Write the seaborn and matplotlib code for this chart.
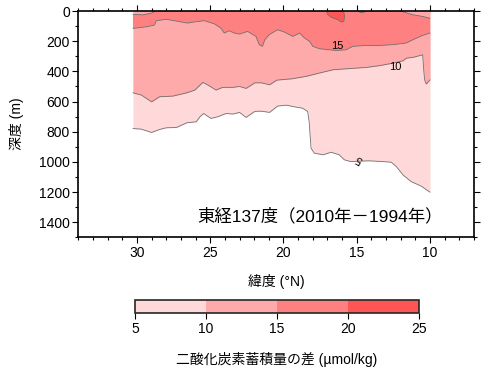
import numpy as np
import matplotlib
matplotlib.use("Agg")
import matplotlib.pyplot as plt
import seaborn as sns
from matplotlib.colors import ListedColormap, BoundaryNorm
from matplotlib.cm import ScalarMappable
from matplotlib.ticker import MultipleLocator

lat5 = [30.27, 29.7, 29.0, 28.45, 28.0, 27.3, 26.6, 25.95, 25.7, 25.45, 24.95, 24.5,
        23.9, 23.45, 23.0, 22.55, 21.95, 21.5, 20.95, 20.4, 19.8, 19.25, 18.7, 18.35,
        18.25, 18.12, 17.9, 17.3, 16.75, 16.2, 15.85, 15.4, 14.8, 14.15, 13.2, 12.65,
        12.3, 11.85, 11.3, 10.6, 10.0]
d5 = [779, 783, 805, 785, 774, 772, 741, 734, 701, 679, 712, 701,
      679, 683, 672, 705, 665, 664, 672, 630, 624, 635, 644, 666,
      732, 909, 942, 953, 936, 953, 986, 998, 995, 993, 998, 1002,
      1031, 1086, 1130, 1161, 1201]

lat10 = [30.27, 29.7, 29.0, 28.45, 27.55, 26.6, 26.05, 25.5, 25.15, 24.6, 24.15, 23.45,
         23.0, 22.55, 21.95, 21.5, 20.95, 20.45, 19.4, 18.45, 17.55, 16.6, 15.7, 15.0,
         14.35, 13.45, 12.5, 11.85, 11.6, 11.15, 10.5, 10.44, 10.37, 10.26, 10.0]
d10 = [542, 557, 602, 568, 564, 542, 524, 473, 491, 524, 506, 506,
       500, 513, 476, 476, 489, 458, 449, 433, 411, 389, 383, 378,
       374, 362, 345, 330, 312, 307, 290, 378, 456, 484, 456]

lat15 = [30.27, 29.3, 28.8, 28.68, 28.0, 27.45, 26.55, 26.1, 25.4, 24.7, 24.27, 24.04,
         23.7, 23.36, 23.0, 22.45, 21.88, 21.65, 21.43, 21.27, 20.97, 20.4, 19.95, 19.36,
         18.9, 18.56, 18.22, 18.0, 17.54, 16.86, 16.4, 15.72, 15.27, 14.35, 13.44, 12.53,
         11.62, 11.16, 10.49, 10.0]
d15 = [115, 104, 93, 64, 55, 64, 80, 73, 64, 86, 113, 146,
       131, 146, 153, 135, 168, 224, 234, 190, 157, 124, 139, 168,
       146, 179, 201, 234, 250, 257, 262, 257, 234, 228, 228, 223,
       212, 190, 161, 146]

# upper edge of the 15-20 band (surface where it reaches 0)
lat15_top = [30.27, 29.6, 29.0, 28.75, 12.0, 11.2, 10.5, 10.0]
d15_top = [22, 25, 14, 0, 0, 24, 36, 48]

# 20+ patches near the surface
lat20a = [17.08, 16.97, 16.74, 16.29, 16.06, 15.88, 15.83, 15.9]
d20a = [0, 24, 42, 58, 73, 68, 35, 0]
lat20b = [14.9, 14.75, 14.5, 14.4]
d20b = [0, 10, 8, 0]

levels = [5, 10, 15, 20, 25]
band_colors = ['#ffd9d9', '#ffaaaa', '#ff8080', '#ff5555']

sns.set_theme(style="ticks")
plt.rcParams['font.family'] = ['Liberation Sans', 'Noto Sans CJK JP']
plt.rcParams['axes.unicode_minus'] = False
for k in ['text.color', 'axes.labelcolor', 'xtick.color', 'ytick.color']:
    plt.rcParams[k] = 'black'

fig = plt.figure(figsize=(4.86, 3.70), dpi=100)
ax = fig.add_axes([0.1611, 0.3586, 0.8142, 0.6116])

ax.fill_between(lat5, 0, d5, color=band_colors[0], lw=0)
ax.fill_between(lat10, 0, d10, color=band_colors[1], lw=0)
ax.fill(np.r_[lat15_top, lat15[::-1]], np.r_[d15_top, d15[::-1]],
        color=band_colors[2], lw=0)
ax.fill(lat20a, d20a, color=band_colors[3], lw=0)
ax.fill(lat20b, d20b, color=band_colors[3], lw=0)

line_kw = dict(color='#707070', lw=0.6, sort=False, estimator=None, ax=ax, legend=False)
for xs, ys in [(lat5, d5), (lat10, d10), (lat15, d15),
               (lat15_top[:4], d15_top[:4]), (lat15_top[4:], d15_top[4:]),
               (lat20a, d20a), (lat20b, d20b)]:
    sns.lineplot(x=xs, y=ys, **line_kw)

# contour labels
ax.text(16.34, 229, '15', fontsize=8, ha='center', va='center')
ax.text(12.4, 373, '10', fontsize=8, ha='center', va='center')
ax.text(14.81, 981, '5', fontsize=8, ha='center', va='center', rotation=150)

ax.text(0.922, 0.094, '東経137度（2010年－1994年）', transform=ax.transAxes,
        ha='right', va='center', fontsize=12.5)

ax.set_xlim(34, 7)
ax.set_ylim(1500, 0)
ax.set_xticks([30, 25, 20, 15, 10])
ax.set_yticks(range(0, 1401, 200))
ax.xaxis.set_minor_locator(MultipleLocator(1))
ax.yaxis.set_minor_locator(MultipleLocator(100))
ax.tick_params(which='both', direction='out', top=True, right=True,
               labeltop=False, labelright=False, color='black', width=0.8)
ax.tick_params(which='major', length=4, pad=2, labelsize=10)
ax.tick_params(which='minor', length=2)
for s in ax.spines.values():
    s.set_visible(True)
    s.set_linewidth(1.2)
    s.set_color('black')
ax.set_xlabel('緯度 (°N)', fontsize=10, labelpad=10)
ax.set_ylabel('深度 (m)', fontsize=10, labelpad=11)

cax = fig.add_axes([0.2778, 0.1532, 0.5844, 0.0359])
sm = ScalarMappable(norm=BoundaryNorm(levels, 4), cmap=ListedColormap(band_colors))
cb = fig.colorbar(sm, cax=cax, orientation='horizontal', ticks=levels)
cb.outline.set_linewidth(1.2)
cb.ax.tick_params(direction='out', length=4, width=0.8, pad=2, labelsize=10)
cb.set_label('二酸化炭素蓄積量の差 (µmol/kg)', fontsize=10, labelpad=12)

fig.savefig('out.png', dpi=100)
